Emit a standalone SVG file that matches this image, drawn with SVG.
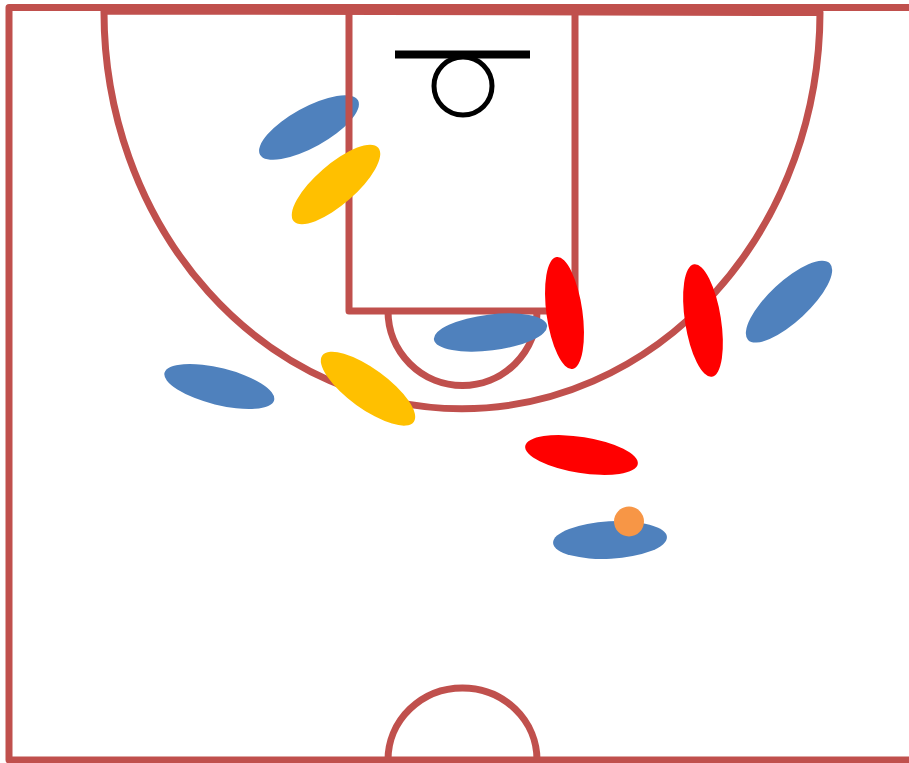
<svg xmlns="http://www.w3.org/2000/svg" width="909" height="763" viewBox="0 0 909 763">
<style>
.line{fill:none;stroke:#C0504D;stroke-width:7;stroke-linejoin:round}
.blue{fill:#4F81BD}
.yellow{fill:#FFC000}
.red{fill:#FF0000}
</style>
<rect width="909" height="763" fill="#FFFFFF"/>
<g id="player-blue-1"><ellipse class="blue" cx="309" cy="127.5" rx="56" ry="20" transform="rotate(-29 309 127.5)"/></g>
<g id="court">
<rect class="line" x="9" y="7.5" width="910" height="752.5"/>
<path class="line" d="M104,11 L820,12.5 A358,397 0 0 1 104,11 Z"/>
<rect class="line" x="349" y="8" width="226" height="303"/>
<path class="line" d="M388,311 A74,74 0 0 0 537,311"/>
<path class="line" d="M388,760 A74.5,72 0 0 1 537,760"/>
<line x1="395" y1="54.5" x2="530" y2="54.5" stroke="#000" stroke-width="8"/>
<circle cx="463" cy="86" r="29" fill="none" stroke="#000" stroke-width="5"/>
</g>
<g id="player-yellow-1"><ellipse class="yellow" cx="336" cy="184.5" rx="56" ry="20" transform="rotate(-41 336 184.5)"/></g>
<g id="player-red-1"><ellipse class="red" cx="564.5" cy="313" rx="18" ry="56.5" transform="rotate(-8 564.5 313)"/></g>
<g id="player-red-2"><ellipse class="red" cx="703" cy="320.5" rx="18" ry="57" transform="rotate(-9 703 320.5)"/></g>
<g id="player-blue-2"><ellipse class="blue" cx="789" cy="301.7" rx="56" ry="20" transform="rotate(-43 789 301.7)"/></g>
<g id="player-blue-3"><ellipse class="blue" cx="490.5" cy="332.5" rx="57" ry="18" transform="rotate(-7 490.5 332.5)"/></g>
<g id="player-blue-4"><ellipse class="blue" cx="219.3" cy="386.5" rx="56.5" ry="18.5" transform="rotate(14 219.3 386.5)"/></g>
<g id="player-yellow-2"><ellipse class="yellow" cx="368" cy="388.7" rx="56.5" ry="20" transform="rotate(36 368 388.7)"/></g>
<g id="player-red-3"><ellipse class="red" cx="581.5" cy="455" rx="57" ry="18" transform="rotate(9 581.5 455)"/></g>
<g id="player-blue-5"><ellipse class="blue" cx="610" cy="540" rx="57" ry="18.7" transform="rotate(-3 610 540)"/></g>
<g id="ball"><circle cx="629" cy="521.5" r="15" fill="#F79646"/></g>
<g id="connectors"/>
</svg>
